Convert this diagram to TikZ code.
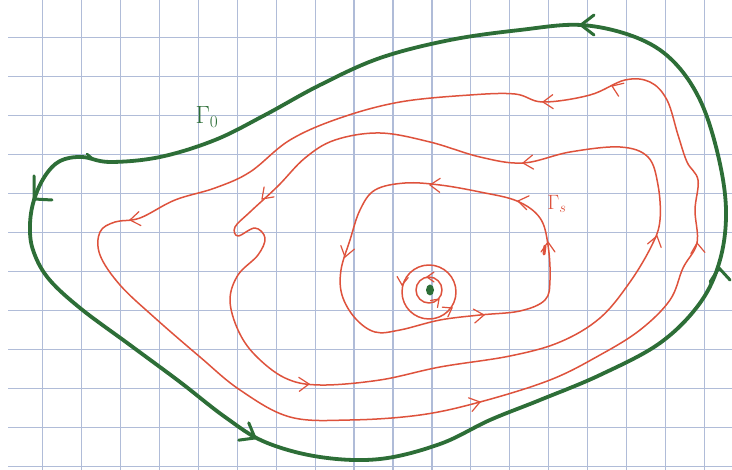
\documentclass[tikz,border=0pt]{standalone}
\usepackage{tikz}
\definecolor{gridc}{RGB}{176,188,216}
\definecolor{pgreen}{RGB}{45,110,55}
\definecolor{pred}{RGB}{222,82,60}
\tikzset{
  gline/.style={draw=pgreen,line width=3.8pt,line cap=round,line join=round},
  rline/.style={draw=pred,line width=1.5pt,line cap=round,line join=round},
  gtip/.pic={\draw[draw=pgreen,line width=3pt,line cap=round] (-13,-10) -- (0,0) -- (-13,10);},
  rtip/.pic={\draw[draw=pred,line width=1.2pt,line cap=round] (-10,-7) -- (0,0) -- (-10,7);},
}
\begin{document}
\begin{tikzpicture}[x=1pt,y=-1pt]
\useasboundingbox (0,0) rectangle (732,470);
\clip (0,0) rectangle (732,470);
\fill[white] (0,0) rectangle (732,470);
% grid
\foreach \k in {0,...,17} {\draw[gridc,line width=1.2pt] ({42.7+38.92*\k},0) -- ({42.7+38.92*\k},470);}
\foreach \k in {0,...,11} {\draw[gridc,line width=1.2pt] (8,{37.3+39.04*\k}) -- (732,{37.3+39.04*\k});}

% outer red curve
\draw[rline] plot[smooth cycle,tension=0.6] coordinates {
(543,102) (590,95) (625,80) (650,82) (667,100) (678,135) (687,162) (698,180)
(695,210) (697,243) (683,268) (670,300) (640,330) (600,355) (550,380) (480,402)
(420,415) (350,420) (290,417) (240,390) (200,357) (155,318) (120,285) (100,255)
(100,232) (115,222) (140,218) (175,200) (215,188) (250,172) (290,140) (340,118)
(400,102) (470,95) (515,94)};
% middle red curve
\draw[rline] plot[smooth cycle,tension=0.6] coordinates {
(523,163) (570,152) (620,147) (648,157) (658,185) (660,220) (652,245) (630,282)
(600,318) (560,342) (510,356) (440,367) (380,380) (320,385) (285,378) (255,355)
(238,330) (230,300) (238,275) (258,255) (265,238) (255,228) (238,236) (235,227)
(250,212) (278,186) (305,158) (335,140) (380,133) (430,142) (480,157)};
% Gamma_s loop
\draw[rline] plot[smooth cycle,tension=0.6] coordinates {
(517,201) (540,218) (548,245) (550,280) (545,300) (520,311) (480,315) (440,320)
(400,330) (375,332) (355,318) (342,295) (341,270) (350,240) (360,210) (375,190)
(405,183) (440,185) (480,192)};
% small circles
\draw[rline] (429,290) circle[radius=13];
\draw[rline] (429,292) circle[radius=27];
\fill[pgreen] (430,290) ellipse[x radius=4,y radius=5.5];

% red arrowheads
\pic[rotate=182] at (543,102) {rtip};
\pic[rotate=158] at (612,86) {rtip};
\pic[rotate=95] at (697,243) {rtip};
\pic[rotate=15] at (480,402) {rtip};
\pic[rotate=188] at (130,220) {rtip};

\pic[rotate=185] at (523,163) {rtip};
\pic[rotate=75] at (657,236) {rtip};
\pic[rotate=2] at (309,384) {rtip};
\pic[rotate=225] at (262,199) {rtip};

\pic[rotate=178] at (430,185) {rtip};
\pic[rotate=170] at (518,201) {rtip};
\pic[rotate=255] at (345,257) {rtip};
\pic[rotate=6] at (484,315) {rtip};
\pic[rotate=90] at (548,242) {rtip};
\draw[draw=pred,line width=3pt,line cap=round] (545,246) -- (544,254);

\pic[rotate=180,scale=0.7] at (427,277) {rtip};
\pic[rotate=45,scale=0.7] at (439,299) {rtip};
\pic[rotate=265,scale=0.8] at (402,285) {rtip};
\pic[rotate=30,scale=0.8] at (452,308) {rtip};

% green curve Gamma_0
\draw[gline] plot[smooth cycle,tension=0.6] coordinates {
(581,25) (520,30) (450,40) (380,58) (320,85) (265,115) (215,140) (160,157)
(110,162) (82,157) (60,161) (45,176) (34,200) (30,225) (33,250) (48,278) (80,308)
(130,345) (180,382) (225,417) (265,442) (320,457) (380,459) (440,444) (490,420)
(540,400) (600,375) (660,343) (700,303) (720,260) (726,210) (718,155) (700,100)
(672,60) (635,37)};
\draw[draw=pgreen,line width=3pt,line cap=round] (34,176) -- (34,199) -- (52,200);
\pic[rotate=180] at (581,25) {gtip};
\pic[rotate=-30] at (255,438) {gtip};
\pic[rotate=95] at (719,268) {gtip};
\draw[draw=pgreen,line width=2.5pt,line cap=round] (87,154) -- (93,159);

% labels
\node[text=pgreen,font=\fontsize{24}{24}\selectfont,inner sep=0pt] (g0) at (207,117) {$\Gamma_0$};
\node[text=pred,font=\fontsize{22}{22}\selectfont,inner sep=0pt] (gs) at (557,204) {$\Gamma_s$};
\end{tikzpicture}
\end{document}
